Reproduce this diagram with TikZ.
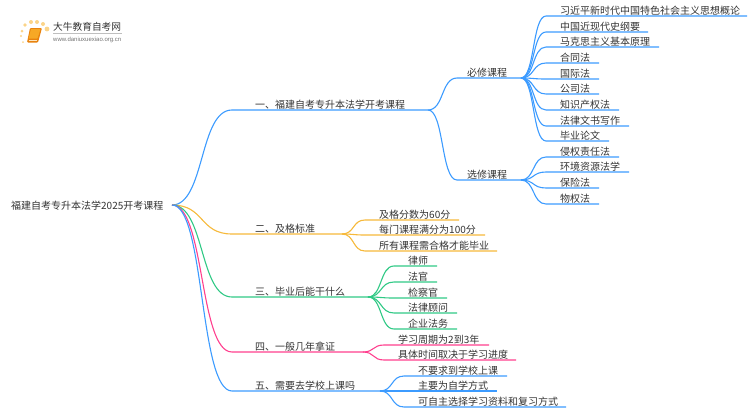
\documentclass[tikz,border=0pt]{standalone}
\usepackage{fontspec}
\setmainfont{Noto Sans CJK SC}
\newfontfamily\urlfont{Liberation Sans}
\usetikzlibrary{calc}

\definecolor{inkgray}{HTML}{333333}
\definecolor{linkblue}{HTML}{3C9BFF}
\definecolor{linkorange}{HTML}{F6B93B}
\definecolor{linkgreen}{HTML}{30C985}
\definecolor{linkpink}{HTML}{FF3F8E}
\definecolor{sundot}{HTML}{FBD489}
\definecolor{bookfill}{HTML}{F7A825}
\definecolor{bookedge}{HTML}{E8820E}

\tikzset{
  label/.style={anchor=base west, inner sep=0pt, text=inkgray, font=\fontsize{10}{12}\selectfont},
  link/.style={line width=1.1pt, to path={.. controls ($(\tikztostart)!0.55!(\tikztotarget |- \tikztostart)$) and ($(\tikztotarget)!0.55!(\tikztostart |- \tikztotarget)$) .. (\tikztotarget)}}
}

\begin{document}
\begin{tikzpicture}[x=1pt, y=-1pt]
  \useasboundingbox (0,0) rectangle (750,410);

  % logo
  \foreach \dx/\dy/\dr in {25/25/1.8, 31/22/2, 37/22/2, 43/24/2, 47/29/2.4, 22/31/1.5, 21/36/1.2, 23/42/1}
    \fill[sundot] (\dx,\dy) circle (\dr);
  \fill[bookedge, rounded corners=1pt] (30,28) -- (42,28) -- (38,42.5) -- (27,42.5) -- cycle;
  \fill[bookfill, rounded corners=0.5pt] (31,29) -- (40.5,29) -- (37.5,38.5) -- (28.5,38.5) -- cycle;
  \draw[white!70!bookfill, line width=0.8pt] (28.5,40.2) -- (37,40.2);
  \node[label, font=\fontsize{9.7}{11}\selectfont] (LogoName) at (53,30.5) {大牛教育自考网};
  \draw[black!25, line width=0.6pt] (53,33.5) -- (122,33.5);
  \node[label, text=black!55, font=\fontsize{6}{7}\urlfont] (LogoUrl) at (53,41) {www.daniuxuexiao.org.cn};

  % root and main branches
  \node[label] (Root) at (11,209.5) {福建自考专升本法学2025开考课程};
  \coordinate (RootEnd) at (172,205);

  \foreach \name/\col/\y/\xa/\xb/\txt in {
    One/linkblue/110/232/428/一、福建自考专升本法学开考课程,
    Two/linkorange/234/232/342/二、及格标准,
    Three/linkgreen/297/232/368/三、毕业后能干什么,
    Four/linkpink/352/232/363/四、一般几年拿证,
    Five/linkblue/391/232/380/五、需要去学校上课吗}{
    \node[label] (\name) at (255,\y-1.7) {\txt};
    \coordinate (\name Start) at (\xa,\y);
    \coordinate (\name End) at (\xb,\y);
    \draw[link, \col] (RootEnd) to (\name Start) -- (\name End);
  }

  % second level under branch one
  \foreach \name/\y/\txt in {Must/78/必修课程, Elect/180/选修课程}{
    \node[label] (\name) at (467,\y-1.7) {\txt};
    \coordinate (\name Start) at (457,\y);
    \coordinate (\name End) at (521,\y);
    \draw[link, linkblue] (OneEnd) to (\name Start) -- (\name End);
  }

  % leaves
  \foreach \parent/\col/\tx/\y/\xe/\txt in {
    Must/linkblue/560/16/747/习近平新时代中国特色社会主义思想概论,
    Must/linkblue/560/32/648/中国近现代史纲要,
    Must/linkblue/560/47/659/马克思主义基本原理,
    Must/linkblue/560/63/599/合同法,
    Must/linkblue/560/79/599/国际法,
    Must/linkblue/560/94/599/公司法,
    Must/linkblue/560/110/619/知识产权法,
    Must/linkblue/560/126/629/法律文书写作,
    Must/linkblue/560/141/609/毕业论文,
    Elect/linkblue/560/157/619/侵权责任法,
    Elect/linkblue/560/172/629/环境资源法学,
    Elect/linkblue/560/188/599/保险法,
    Elect/linkblue/560/204/599/物权法,
    Two/linkorange/379/220/459/及格分数为60分,
    Two/linkorange/379/235/485/每门课程满分为100分,
    Two/linkorange/379/251/497/所有课程需合格才能毕业,
    Three/linkgreen/408/266/437/律师,
    Three/linkgreen/408/282/437/法官,
    Three/linkgreen/408/298/447/检察官,
    Three/linkgreen/408/313/457/法律顾问,
    Three/linkgreen/408/329/457/企业法务,
    Four/linkpink/398/345/489/学习周期为2到3年,
    Four/linkpink/398/360/516/具体时间取决于学习进度,
    Five/linkblue/418/376/507/不要求到学校上课,
    Five/linkblue/418/391/497/主要为自学方式,
    Five/linkblue/418/407/566/可自主选择学习资料和复习方式}{
    \node[label] (Leaf\y) at (\tx,\y-1.7) {\txt};
    \coordinate (Leaf\y Start) at (\tx-14,\y);
    \coordinate (Leaf\y End) at (\xe,\y);
    \draw[link, \col] (\parent End) to (Leaf\y Start) -- (Leaf\y End);
  }
\end{tikzpicture}
\end{document}
